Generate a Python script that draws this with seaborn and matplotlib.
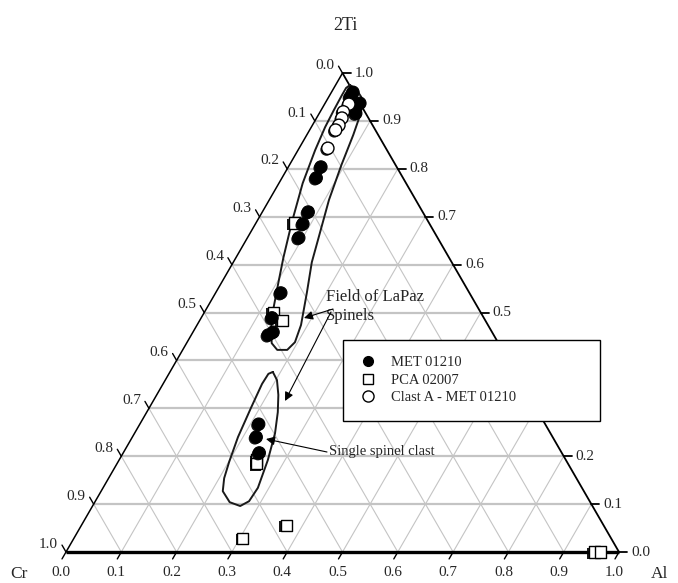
import numpy as np
import pandas as pd
import seaborn as sns
import matplotlib.pyplot as plt
from matplotlib.lines import Line2D
from matplotlib.patches import Rectangle
import matplotlib.patheffects as pe

sns.set_theme(style="white")
plt.rcParams["font.family"] = ["Liberation Serif", "DejaVu Serif"]

# Spinel compositions as (Al, 2Ti) fractions; Cr = 1 - Al - 2Ti
met_al = [0.039, 0.039, 0.063, 0.066, 0.059, 0.062, 0.083, 0.086, 0.093,
          0.118, 0.128, 0.145, 0.139, 0.215, 0.224, 0.246]
met_ti = [0.960, 0.950, 0.937, 0.916, 0.804, 0.781, 0.710, 0.685, 0.656,
          0.541, 0.489, 0.459, 0.453, 0.267, 0.240, 0.207]

pca_al = [0.069, 0.124, 0.149, 0.249, 0.253, 0.370, 0.305, 0.955, 0.967]
pca_ti = [0.687, 0.501, 0.484, 0.192, 0.184, 0.056, 0.029, 0.000, 0.000]

clast_al = [0.044, 0.042, 0.046, 0.048, 0.047, 0.052]
clast_ti = [0.935, 0.919, 0.906, 0.891, 0.881, 0.843]

# Outline of the LaPaz spinel field (Al, 2Ti)
field_al = [0.026, 0.041, 0.059, 0.071, 0.077, 0.084, 0.094, 0.108, 0.130,
            0.142, 0.165, 0.188, 0.195, 0.189, 0.171, 0.154, 0.139, 0.122,
            0.103, 0.086, 0.064, 0.043, 0.031, 0.025, 0.023, 0.022, 0.022, 0.026]
field_ti = [0.975, 0.967, 0.950, 0.929, 0.906, 0.871, 0.808, 0.735, 0.651,
            0.605, 0.541, 0.474, 0.438, 0.422, 0.422, 0.436, 0.463, 0.505,
            0.562, 0.614, 0.689, 0.770, 0.839, 0.887, 0.923, 0.954, 0.969, 0.975]

# Outline of the single spinel clast field (Al, 2Ti)
clast_field_al = [0.186, 0.202, 0.220, 0.237, 0.254, 0.269, 0.280, 0.278, 0.267,
                  0.244, 0.220, 0.209, 0.201, 0.191, 0.184, 0.179, 0.180, 0.186]
clast_field_ti = [0.376, 0.359, 0.328, 0.292, 0.248, 0.192, 0.134, 0.106, 0.096,
                  0.104, 0.127, 0.154, 0.188, 0.240, 0.301, 0.351, 0.372, 0.376]

tick_values = [0.0, 0.1, 0.2, 0.3, 0.4, 0.5, 0.6, 0.7, 0.8, 0.9, 1.0]
tick_labels = [f"{v:.1f}" for v in tick_values]
H = np.sqrt(3) / 2


def tern(al, ti):
    al = np.asarray(al, dtype=float)
    ti = np.asarray(ti, dtype=float)
    return al + ti / 2, ti * H


S = 553.0  # pixels per unit side


def px(x, y):
    return (x - 66) / S, (552 - y) / S


fig = plt.figure(figsize=(6.78, 5.83), dpi=100)
ax = fig.add_axes([0, 0, 1, 1])
ax.set_xlim(-66 / S, 612 / S)
ax.set_ylim(-31 / S, 552 / S)
ax.axis("off")

grid_c = "#c4c4c4"
for v in tick_values[1:-1]:
    # constant 2Ti (horizontal)
    x, y = tern([0, 1 - v], [v, v])
    ax.plot(x, y, color=grid_c, lw=1.6, zorder=1)
    # constant Al (parallel to left edge)
    x, y = tern([v, v], [0, 1 - v])
    ax.plot(x, y, color=grid_c, lw=0.8, zorder=1)
    # constant Cr (parallel to right edge)
    x, y = tern([1 - v, 0], [0, 1 - v])
    ax.plot(x, y, color=grid_c, lw=0.8, zorder=1)

# triangle frame
x, y = tern([0, 0], [0, 1])
ax.plot(x, y, color="black", lw=1.1, zorder=2)
x, y = tern([1, 0], [0, 1])
ax.plot(x, y, color="black", lw=1.3, zorder=2)
x, y = tern([0, 1], [0, 0])
ax.plot(x, y, color="black", lw=2.4, zorder=2, solid_capstyle="butt")

tl = 8 / S
fs_tick = 11
for v, lab in zip(tick_values, tick_labels):
    # bottom axis (Al)
    bx, by = tern(v, 0)
    ex, ey = bx - 0.5 * tl, by - H * tl
    ax.plot([bx, ex], [by, ey], color="black", lw=1.0, zorder=2)
    ax.text(ex - 1 / S, by - 20 / S, lab, ha="center", va="center", fontsize=fs_tick)
    # right axis (2Ti)
    rx, ry = tern(1 - v, v)
    ax.plot([rx, rx + tl], [ry, ry], color="black", lw=1.3, zorder=2)
    ax.text(rx + tl + 4 / S, ry, lab, ha="left", va="center", fontsize=fs_tick)
    # left axis (Cr)
    lx, ly = tern(0, 1 - v)
    ex, ey = lx - 0.5 * tl, ly + H * tl
    ax.plot([lx, ex], [ly, ey], color="black", lw=1.0, zorder=2)
    ax.text(ex - 4 / S, ey + 1 / S, lab, ha="right", va="center", fontsize=fs_tick)

ax.text(*px(345, 26), "2Ti", ha="center", va="center", fontsize=13)
ax.text(*px(19, 574), "Cr", ha="center", va="center", fontsize=12.5)
ax.text(*px(660, 574), "Al", ha="center", va="center", fontsize=12.5)

# field outlines
x, y = tern(field_al, field_ti)
ax.plot(x, y, color="#1a1a1a", lw=1.4, zorder=3)
x, y = tern(clast_field_al, clast_field_ti)
ax.plot(x, y, color="#1a1a1a", lw=1.4, zorder=3)

shadow = [pe.SimplePatchShadow(offset=(-1.0, -1.0), shadow_rgbFace="black", alpha=0.9), pe.Normal()]

x, y = tern(pca_al, pca_ti)
sns.scatterplot(x=x, y=y, marker="s", s=64, color="white", edgecolor="black",
                linewidth=1.0, ax=ax, zorder=4, legend=False).collections[-1].set_path_effects(shadow)
x, y = tern(met_al, met_ti)
sns.scatterplot(x=x, y=y, marker="o", s=78, color="black", edgecolor="black",
                linewidth=0.8, ax=ax, zorder=5, legend=False).collections[-1].set_path_effects(shadow)
x, y = tern(clast_al, clast_ti)
sns.scatterplot(x=x, y=y, marker="o", s=78, color="white", edgecolor="black",
                linewidth=1.0, ax=ax, zorder=6, legend=False).collections[-1].set_path_effects(shadow)

# annotations
arrow = dict(arrowstyle="-|>", color="black", lw=0.8, mutation_scale=13, shrinkA=0, shrinkB=0)
ax.text(*px(326, 307), "Field of LaPaz\nSpinels", ha="left", va="center",
        fontsize=12, linespacing=1.25, zorder=7)
ax.annotate("", xy=px(304, 318), xytext=px(333, 309), arrowprops=arrow, zorder=7)
ax.annotate("", xy=px(285, 401), xytext=px(331, 312), arrowprops=arrow, zorder=7)
ax.text(*px(329, 451), "Single spinel clast", ha="left", va="center", fontsize=10.5, zorder=7)
ax.annotate("", xy=px(266, 439), xytext=px(327, 452), arrowprops=arrow, zorder=7)

# legend box
x0, y0 = px(343, 421)
x1, y1 = px(600, 340)
ax.add_patch(Rectangle((x0, y0), x1 - x0, y1 - y0, facecolor="white",
                       edgecolor="black", lw=1.0, zorder=8))
handles = [
    Line2D([], [], ls="none", marker="o", ms=7, mfc="black", mec="black"),
    Line2D([], [], ls="none", marker="s", ms=7, mfc="white", mec="black"),
    Line2D([], [], ls="none", marker="o", ms=8, mfc="white", mec="black"),
]
labels = ["MET 01210", "PCA 02007", "Clast A - MET 01210"]
leg = ax.legend(handles, labels, loc="upper left", bbox_to_anchor=(355 / 678, 1 - 353 / 583),
                frameon=False, fontsize=10.5, handlelength=1.4, handletextpad=0.9,
                labelspacing=0.3, borderpad=0.2, borderaxespad=0)
leg.set_zorder(9)

fig.savefig("out.png", dpi=100)
